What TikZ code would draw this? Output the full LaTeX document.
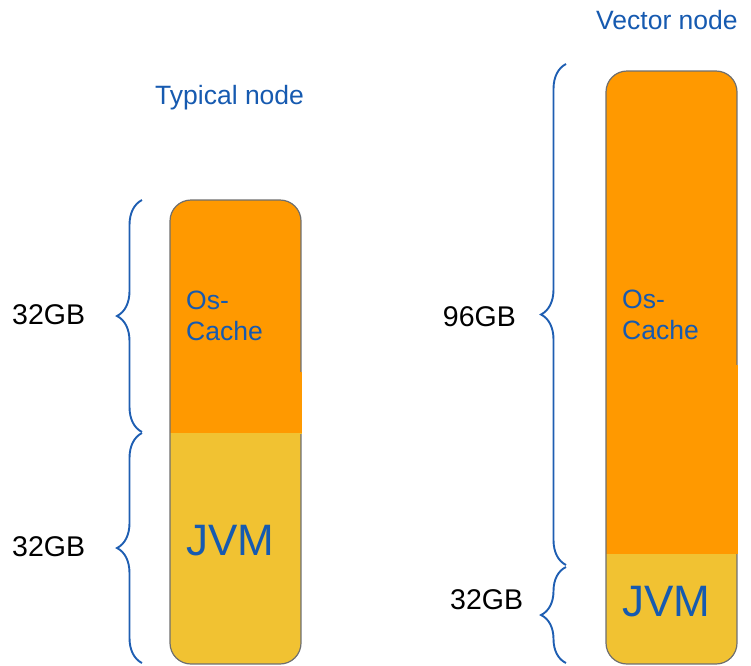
\documentclass[tikz,border=0pt]{standalone}
\usepackage{fontspec}
\setmainfont{Liberation Sans}
\usetikzlibrary{decorations.pathreplacing}
\definecolor{cacheorange}{RGB}{255,153,0}
\definecolor{jvmyellow}{RGB}{241,194,50}
\definecolor{textblue}{RGB}{22,90,176}
\definecolor{braceblue}{RGB}{30,94,178}
\definecolor{outline}{RGB}{110,110,110}
\tikzset{
  membar/.style={draw=outline, line width=1.2pt, rounded corners=21pt},
  sizebrace/.style={draw=braceblue, line width=1.9pt, decorate,
    decoration={brace, amplitude=25pt}},
  title/.style={anchor=base west, inner sep=0pt, text=textblue,
    font=\fontsize{26.5}{30}\selectfont},
  sizelabel/.style={anchor=base west, inner sep=0pt, text=black,
    font=\fontsize{28.5}{34}\selectfont},
  cachelabel/.style={anchor=base west, inner sep=0pt, text=textblue, align=left,
    font=\fontsize{26.5}{30.5}\selectfont},
  jvmlabel/.style={anchor=base west, inner sep=0pt, text=textblue,
    font=\fontsize{44}{50}\selectfont}
}
\begin{document}
\begin{tikzpicture}[x=1pt, y=-1pt]
\useasboundingbox (0,0) rectangle (751,665);

% typical node: 32GB cache over 32GB heap
\begin{scope}
  \clip[rounded corners=21pt] (170,200) rectangle (301,664);
  \fill[cacheorange] (170,200) rectangle (301,433);
  \fill[jvmyellow] (170,433) rectangle (301,664);
\end{scope}
\draw[membar] (170,200) rectangle (301,664);
\fill[cacheorange] (170.6,372) rectangle (302,433);
\fill[jvmyellow] (170.6,433) rectangle (301.6,434);

% vector node: 96GB cache over 32GB heap
\begin{scope}
  \clip[rounded corners=21pt] (606,71) rectangle (737,664);
  \fill[cacheorange] (606,71) rectangle (737,554);
  \fill[jvmyellow] (606,554) rectangle (737,664);
\end{scope}
\draw[membar] (606,71) rectangle (737,664);
\fill[cacheorange] (606.6,365) rectangle (738,554);

% titles
\node[title] (ttypical) at (155,104.3) {Typical node};
\node[title] (tvector) at (596,29.3) {Vector node};

% segment texts (anchored at the baseline of the last line)
\node[cachelabel] (cache1) at (186,340) {Os-\\Cache};
\node[jvmlabel] (jvm1) at (186,555) {JVM};
\node[cachelabel] (cache2) at (622,339) {Os-\\Cache};
\node[jvmlabel] (jvm2) at (622,616.7) {JVM};

% braces
\coordinate (b1a) at (142,432);
\coordinate (b1b) at (142,200);
\coordinate (b2a) at (142,663);
\coordinate (b2b) at (142,433);
\coordinate (b3a) at (566,565);
\coordinate (b3b) at (566,64);
\coordinate (b4a) at (566,663);
\coordinate (b4b) at (566,567);
\draw[sizebrace] (b1a) -- (b1b);
\draw[sizebrace] (b2a) -- (b2b);
\draw[sizebrace] (b3a) -- (b3b);
\draw[sizebrace] (b4a) -- (b4b);

% sizes
\node[sizelabel] (s1) at (12,324.5) {32GB};
\node[sizelabel] (s2) at (12,556) {32GB};
\node[sizelabel] (s3) at (442.7,326.7) {96GB};
\node[sizelabel] (s4) at (450,609) {32GB};
\end{tikzpicture}
\end{document}
